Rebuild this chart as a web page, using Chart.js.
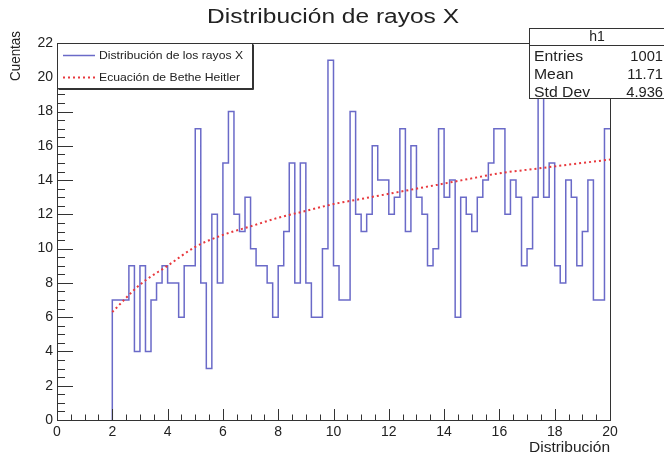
<!DOCTYPE html>
<html>
<head>
<meta charset="utf-8">
<script src="https://cdn.jsdelivr.net/npm/chart.js@4.4.1/dist/chart.umd.min.js"></script>
<style>
  html, body { margin: 0; padding: 0; background: #fff; }
  #wrap { width: 664px; height: 456px; }
</style>
</head>
<body>
<div id="wrap"><canvas id="histChart" width="664" height="456"></canvas></div>
<script>
// histogram h1: 0.2 wide bins, filled from x = 2 to 20
const binStart = 2;
const binWidth = 0.2;
const counts = [
  7, 7, 7, 9, 4, 9, 4, 7, 8, 9,
  8, 8, 6, 9, 9, 17, 8, 3, 12, 8,
  15, 18, 12, 11, 13, 10, 9, 9, 8, 6,
  9, 11, 15, 8, 15, 8, 6, 6, 10, 21,
  9, 7, 7, 18, 12, 11, 12, 16, 14, 14,
  12, 13, 17, 11, 16, 13, 12, 9, 10, 17,
  13, 14, 6, 13, 12, 11, 13, 14, 15, 17,
  17, 12, 14, 13, 9, 10, 13, 19, 13, 15,
  9, 8, 14, 13, 9, 11, 14, 7, 7, 17
];

// Bethe-Heitler curve
const fitX = [2, 3, 4, 5, 6, 7, 8, 9, 10, 11, 12, 13, 14, 15, 16, 17, 18, 19, 20];
const fitY = [6.3, 7.9, 9.0, 10.1, 10.8, 11.3, 11.8, 12.2, 12.6, 12.9, 13.2, 13.5, 13.8, 14.1, 14.4, 14.6, 14.8, 15.0, 15.2];

const statLabels = ["Entries", "Mean", "Std Dev"];
const statValues = ["1001", "11.71", "4.936"];

const FONT = "'Liberation Sans', Arial, Helvetica, sans-serif";
const HIST_COLOR = "rgba(80, 80, 190, 0.85)";
const FIT_COLOR = "#e8383d";

// step points: left edge of every bin carries that bin's count
const histPoints = [{ x: binStart, y: 0 }];
counts.forEach((c, i) => {
  histPoints.push({ x: binStart + i * binWidth, y: c });
});
histPoints.push({ x: binStart + counts.length * binWidth, y: counts[counts.length - 1] });

const fitPoints = fitX.map((x, i) => ({ x: x, y: fitY[i] }));

// text with a horizontal stretch (the original picture is stretched)
function scaledText(ctx, text, x, y, size, sx, align) {
  ctx.save();
  ctx.font = size + "px " + FONT;
  const w = ctx.measureText(text).width * sx;
  let left = x;
  if (align === "center") left = x - w / 2;
  if (align === "right") left = x - w;
  ctx.translate(left, y);
  ctx.scale(sx, 1);
  ctx.textAlign = "left";
  ctx.textBaseline = "middle";
  ctx.fillStyle = "#222";
  ctx.fillText(text, 0, 0);
  ctx.restore();
}

// same, but fitted to a given width
function wideText(ctx, text, x, y, size, width, align) {
  ctx.save();
  ctx.font = size + "px " + FONT;
  const w = ctx.measureText(text).width;
  ctx.restore();
  scaledText(ctx, text, x, y, size, width / w, align);
}

const rootDecor = {
  id: "rootDecor",
  afterDatasetsDraw(chart) {
    const ctx = chart.ctx;
    const area = chart.chartArea;
    const xs = chart.scales.x;
    const ys = chart.scales.y;

    ctx.save();
    ctx.strokeStyle = "#333";
    ctx.lineWidth = 1;

    // frame
    ctx.strokeRect(Math.round(area.left) + 0.5, Math.round(area.top) + 0.5,
      Math.round(area.right - area.left), Math.round(area.bottom - area.top));

    // inward ticks, bottom axis
    ctx.beginPath();
    for (let v = 0; v <= 20.001; v += 0.5) {
      const px = Math.round(xs.getPixelForValue(v)) + 0.5;
      const len = Math.abs(v % 2) < 0.01 ? 11 : 5.5;
      ctx.moveTo(px, area.bottom);
      ctx.lineTo(px, area.bottom - len);
    }
    // inward ticks, left axis
    for (let v = 0; v <= 22.001; v += 0.5) {
      const py = Math.round(ys.getPixelForValue(v)) + 0.5;
      const len = Math.abs(v % 2) < 0.01 ? 16 : 8;
      ctx.moveTo(area.left, py);
      ctx.lineTo(area.left + len, py);
    }
    ctx.stroke();

    // legend box
    const lg = { x: 57.5, y: 43.5, w: 195, h: 45 };
    ctx.fillStyle = "#fff";
    ctx.fillRect(lg.x, lg.y, lg.w, lg.h);
    ctx.strokeRect(lg.x, lg.y, lg.w, lg.h);
    ctx.beginPath();
    ctx.moveTo(lg.x + 1, lg.y + lg.h + 1);
    ctx.lineTo(lg.x + lg.w + 1, lg.y + lg.h + 1);
    ctx.lineTo(lg.x + lg.w + 1, lg.y + 1);
    ctx.stroke();

    ctx.strokeStyle = HIST_COLOR;
    ctx.lineWidth = 1.5;
    ctx.beginPath();
    ctx.moveTo(63, 55.5);
    ctx.lineTo(95, 55.5);
    ctx.stroke();

    ctx.strokeStyle = FIT_COLOR;
    ctx.lineWidth = 2;
    ctx.setLineDash([2, 3]);
    ctx.beginPath();
    ctx.moveTo(63, 77.5);
    ctx.lineTo(95, 77.5);
    ctx.stroke();
    ctx.setLineDash([]);

    wideText(ctx, "Distribución de los rayos X", 99, 55.5, 11, 144, "left");
    wideText(ctx, "Ecuación de Bethe Heitler", 99, 77.5, 11, 141, "left");

    // stats box
    ctx.strokeStyle = "#333";
    ctx.lineWidth = 1;
    ctx.fillStyle = "#fff";
    ctx.fillRect(529.5, 28.5, 140, 70);
    ctx.strokeRect(529.5, 28.5, 140, 70);
    ctx.beginPath();
    ctx.moveTo(529.5, 45.5);
    ctx.lineTo(664, 45.5);
    ctx.stroke();

    scaledText(ctx, "h1", 597, 37, 14, 1, "center");
    statLabels.forEach((lab, i) => {
      const y = 57 + i * 18;
      scaledText(ctx, lab, 534, y, 15, 1.05, "left");
      scaledText(ctx, statValues[i], 663, y, 14, 1.05, "right");
    });

    // titles
    wideText(ctx, "Distribución de rayos X", 333, 17, 20, 252, "center");
    wideText(ctx, "Distribución", 610, 448, 14, 81, "right");

    ctx.save();
    ctx.translate(16, 56);
    ctx.rotate(-Math.PI / 2);
    wideText(ctx, "Cuentas", 0, 0, 14, 50, "center");
    ctx.restore();

    ctx.restore();
  }
};

const ctx = document.getElementById("histChart").getContext("2d");
new Chart(ctx, {
  type: "line",
  data: {
    datasets: [
      {
        label: "Distribución de los rayos X",
        data: histPoints,
        stepped: "before",
        borderColor: HIST_COLOR,
        borderWidth: 1.5,
        pointRadius: 0,
        fill: false,
        order: 2
      },
      {
        label: "Ecuación de Bethe Heitler",
        data: fitPoints,
        borderColor: FIT_COLOR,
        borderWidth: 2,
        borderDash: [2, 3],
        cubicInterpolationMode: "monotone",
        pointRadius: 0,
        fill: false,
        order: 1
      }
    ]
  },
  options: {
    responsive: false,
    animation: false,
    layout: { padding: { top: 43, right: 54, left: 0, bottom: 0 } },
    plugins: {
      legend: { display: false },
      title: { display: false },
      tooltip: { enabled: false }
    },
    scales: {
      x: {
        type: "linear",
        min: 0,
        max: 20,
        grid: { display: false, drawTicks: false },
        border: { display: false },
        ticks: {
          stepSize: 2,
          padding: 4,
          maxRotation: 0,
          color: "#222",
          font: { family: FONT, size: 14 }
        },
        afterFit(scale) { scale.height = 36; }
      },
      y: {
        type: "linear",
        min: 0,
        max: 22,
        grid: { display: false, drawTicks: false },
        border: { display: false },
        ticks: {
          stepSize: 2,
          padding: 4,
          color: "#222",
          font: { family: FONT, size: 14 }
        },
        afterFit(scale) { scale.width = 57; }
      }
    }
  },
  plugins: [rootDecor]
});
</script>
</body>
</html>
